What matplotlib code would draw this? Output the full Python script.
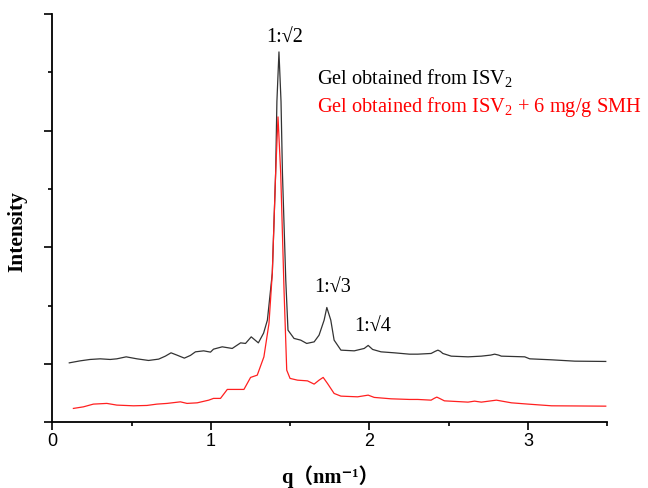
import matplotlib
matplotlib.use("Agg")
import matplotlib.pyplot as plt
from matplotlib.ticker import FixedLocator, NullFormatter

plt.rcParams['mathtext.fontset'] = 'custom'
plt.rcParams['mathtext.rm'] = 'Liberation Serif'
plt.rcParams['mathtext.it'] = 'Liberation Serif:italic'
plt.rcParams['mathtext.bf'] = 'Liberation Serif:bold'

SERIF = ['Liberation Serif', 'DejaVu Serif', 'Noto Sans CJK SC']

# -----------------------------------------------------------------------------
# Data
# -----------------------------------------------------------------------------
q_black = [0.106, 0.174, 0.237, 0.301, 0.364, 0.406, 0.465, 0.533, 0.606, 0.670,
           0.712, 0.748, 0.786, 0.832, 0.870, 0.902, 0.954, 0.997, 1.016, 1.071,
           1.134, 1.187, 1.218, 1.254, 1.299, 1.332, 1.356, 1.387, 1.408, 1.416,
           1.429, 1.442, 1.451, 1.472, 1.486, 1.524, 1.566, 1.604, 1.651, 1.682,
           1.714, 1.731, 1.756, 1.777, 1.820, 1.904, 1.967, 1.992, 2.020, 2.073,
           2.157, 2.252, 2.305, 2.389, 2.415, 2.432, 2.447, 2.463, 2.516, 2.622,
           2.706, 2.765, 2.790, 2.815, 2.832, 2.980, 3.011, 3.149, 3.296, 3.491]
i_black = [1.017, 1.051, 1.075, 1.086, 1.075, 1.086, 1.120, 1.086, 1.058, 1.081,
           1.132, 1.189, 1.149, 1.098, 1.144, 1.206, 1.223, 1.201, 1.252, 1.292,
           1.264, 1.360, 1.350, 1.463, 1.360, 1.527, 1.750, 2.556, 4.271, 5.500,
           6.352, 5.500, 4.271, 2.436, 1.578, 1.436, 1.407, 1.350, 1.377, 1.492,
           1.750, 1.967, 1.750, 1.407, 1.235, 1.223, 1.264, 1.316, 1.247, 1.206,
           1.189, 1.166, 1.166, 1.178, 1.215, 1.235, 1.215, 1.178, 1.132, 1.120,
           1.132, 1.150, 1.166, 1.150, 1.132, 1.120, 1.086, 1.069, 1.046, 1.041]

q_red = [0.132, 0.195, 0.258, 0.343, 0.406, 0.511, 0.596, 0.659, 0.723, 0.807,
         0.849, 0.913, 0.986, 1.016, 1.060, 1.103, 1.208, 1.250, 1.292, 1.334,
         1.366, 1.387, 1.408, 1.423, 1.440, 1.461, 1.478, 1.499, 1.546, 1.609,
         1.651, 1.682, 1.708, 1.735, 1.777, 1.820, 1.925, 1.992, 2.030, 2.136,
         2.252, 2.305, 2.389, 2.410, 2.425, 2.440, 2.473, 2.622, 2.663, 2.706,
         2.801, 2.896, 3.001, 3.149, 3.491]
i_red = [0.235, 0.262, 0.309, 0.321, 0.292, 0.280, 0.286, 0.309, 0.321, 0.348,
         0.321, 0.331, 0.377, 0.407, 0.407, 0.561, 0.561, 0.767, 0.806, 1.120,
         1.693, 2.556, 4.271, 5.237, 4.271, 2.264, 0.892, 0.750, 0.720, 0.708,
         0.652, 0.720, 0.767, 0.664, 0.492, 0.446, 0.434, 0.463, 0.424, 0.400,
         0.389, 0.389, 0.377, 0.410, 0.429, 0.410, 0.365, 0.343, 0.360, 0.343,
         0.377, 0.331, 0.309, 0.280, 0.274]

peak_labels = ['1:\u221a2', '1:\u221a3', '1:\u221a4']
peak_q = [1.465, 1.769, 2.018]
peak_i = [6.59, 2.30, 1.63]

label_black = 'Gel obtained from ISV$_2$'
label_red = 'Gel obtained from ISV$_2$ + 6 mg/g SMH'

# -----------------------------------------------------------------------------
# Figure
# -----------------------------------------------------------------------------
fig = plt.figure(figsize=(6.48, 4.88), dpi=100)
ax = fig.add_axes([0.081, 0.135, 0.856, 0.836])

ax.plot(q_black, i_black, color='#333333', lw=0.9)
ax.plot(q_red, i_red, color='#ff2020', lw=0.9)

ax.set_xlim(0, 3.5)
ax.set_ylim(0, 7)

for s in ('top', 'right'):
    ax.spines[s].set_visible(False)
for s in ('left', 'bottom'):
    ax.spines[s].set_linewidth(1.3)

ax.xaxis.set_major_locator(FixedLocator([0, 1, 2, 3]))
ax.xaxis.set_minor_locator(FixedLocator([0.5, 1.5, 2.5, 3.5]))
ax.yaxis.set_major_locator(FixedLocator([0, 1, 3, 5, 7]))
ax.yaxis.set_minor_locator(FixedLocator([2, 4, 6]))
ax.yaxis.set_major_formatter(NullFormatter())
ax.tick_params(which='major', direction='out', length=5.5, width=1.2)
ax.tick_params(which='minor', direction='out', length=3, width=1.2)
ax.tick_params(axis='x', which='major', labelsize=13, pad=2)
for t in ax.get_xticklabels():
    t.set_family(['Liberation Sans', 'DejaVu Sans'])

ax.set_xlabel('q\uff08nm\u207b\u00b9\uff09', family=['Liberation Serif', 'Noto Sans CJK SC', 'DejaVu Sans'],
              fontweight='bold', fontsize=14.8)
ax.xaxis.set_label_coords(0.5, -0.105)
ax.set_ylabel('Intensity', family=SERIF, fontweight='bold', fontsize=15.5)
ax.yaxis.set_label_coords(-0.046, 0.466)

for lab, x, y in zip(peak_labels, peak_q, peak_i):
    ax.text(x, y, lab, ha='center', va='center', fontsize=14.5, family=SERIF)

ax.text(1.668, 5.90, label_black, ha='left', va='center', fontsize=14.7,
        family=SERIF, color='black')
ax.text(1.668, 5.40, label_red, ha='left', va='center', fontsize=14.7,
        family=SERIF, color='red')

fig.savefig('out.png', dpi=100)
